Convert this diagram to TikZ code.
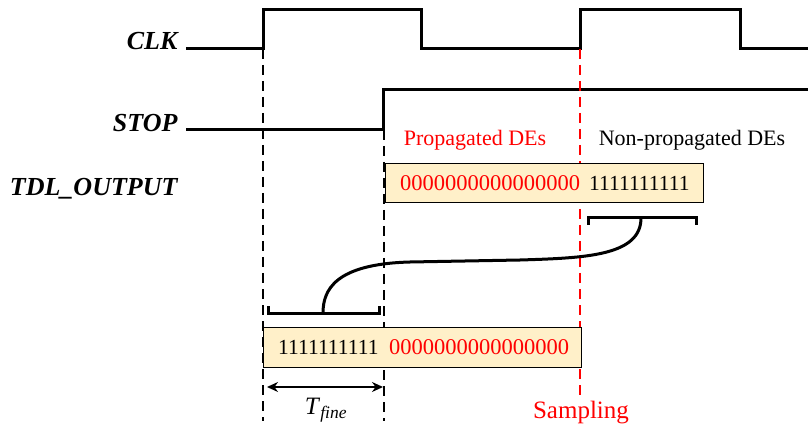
\documentclass[tikz,border=0pt]{standalone}
\usepackage{fontspec}
\setmainfont{Liberation Serif}
\usetikzlibrary{arrows.meta,positioning}
\definecolor{regfill}{RGB}{255,240,201}
\tikzset{
  signame/.style={anchor=east,font=\fontsize{26}{26}\selectfont\bfseries\itshape},
  wave/.style={line width=3pt},
  marker/.style={line width=2.6pt,dash pattern=on 10pt off 6pt},
  regbox/.style={draw,line width=1.2pt,fill=regfill,anchor=north west,inner sep=0pt},
  ones/.style={anchor=west,font=\fontsize{21.5}{21.5}\selectfont,inner sep=0pt},
  zeros/.style={anchor=west,red,font=\fontsize{22.5}{22.5}\selectfont,inner sep=0pt},
  note/.style={font=\fontsize{22}{22}\selectfont}
}

\begin{document}
\begin{tikzpicture}[x=1pt,y=-1pt]
\useasboundingbox (0,0) rectangle (808,430);
% signal names
\node[signame] (clk) at (181,41) {CLK};
\node[signame] (stop) at (181,123) {STOP};
\node[signame] (tdl) at (181,189) {TDL\_OUTPUT};
% waveforms
\draw[wave] (186,49) -- (263,49) -- (263,10) -- (421,10) -- (421,49) -- (580,49) -- (580,10) -- (740,10) -- (740,49) -- (808,49);
\draw[wave] (186,130) -- (383,130) -- (383,90) -- (808,90);
% time markers
\draw[marker] (263,49) -- (263,421);
\draw[marker] (384,130) -- (384,421);
\draw[marker,red] (580,49) -- (580,398);
% tdl registers
\node[regbox,minimum width=318,minimum height=39] (top) at (385,163) {};
\node[zeros] (topzero) at (400,183) {0000000000000000};
\node[ones] (topone) at (589,183) {1111111111};
\node[regbox,minimum width=318,minimum height=40] (bot) at (263,327) {};
\node[ones] (botone) at (278,347) {1111111111};
\node[zeros] (botzero) at (389,347) {0000000000000000};
\node[note,red] (prop) at (475,140) {Propagated DEs};
\node[note] (nonprop) at (692,140) {Non-propagated DEs};
% brackets
\coordinate (ta) at (588,218);
\coordinate (tb) at (696,218);
\coordinate (tm) at (641,218);
\coordinate (ba) at (268,313);
\coordinate (bb) at (379,313);
\coordinate (bm) at (323,313);
\draw[wave] ([yshift=-7]ta) -- (ta) -- (tb) -- ([yshift=-7]tb);
\draw[wave] ([yshift=7]ba) -- (ba) -- (bb) -- ([yshift=7]bb);
\draw[wave] (tm) .. controls (641,256) and (585,258) .. (520,260) -- (410,262) .. controls (335,264) and (323,290) .. (bm);
% fine time
\coordinate (fa) at (267,387);
\coordinate (fb) at (383,387);
\draw[line width=1.8pt,{Stealth[length=11pt,width=10pt]}-{Stealth[length=11pt,width=10pt]}] (fa) -- (fb);
\node[font=\fontsize{25}{25}\selectfont] (tfine) at (326,410) {\textit{T}\textsubscript{\textit{fine}}};
\node[red,font=\fontsize{25}{25}\selectfont] (samp) at (581,413) {Sampling};
\end{tikzpicture}
\end{document}
